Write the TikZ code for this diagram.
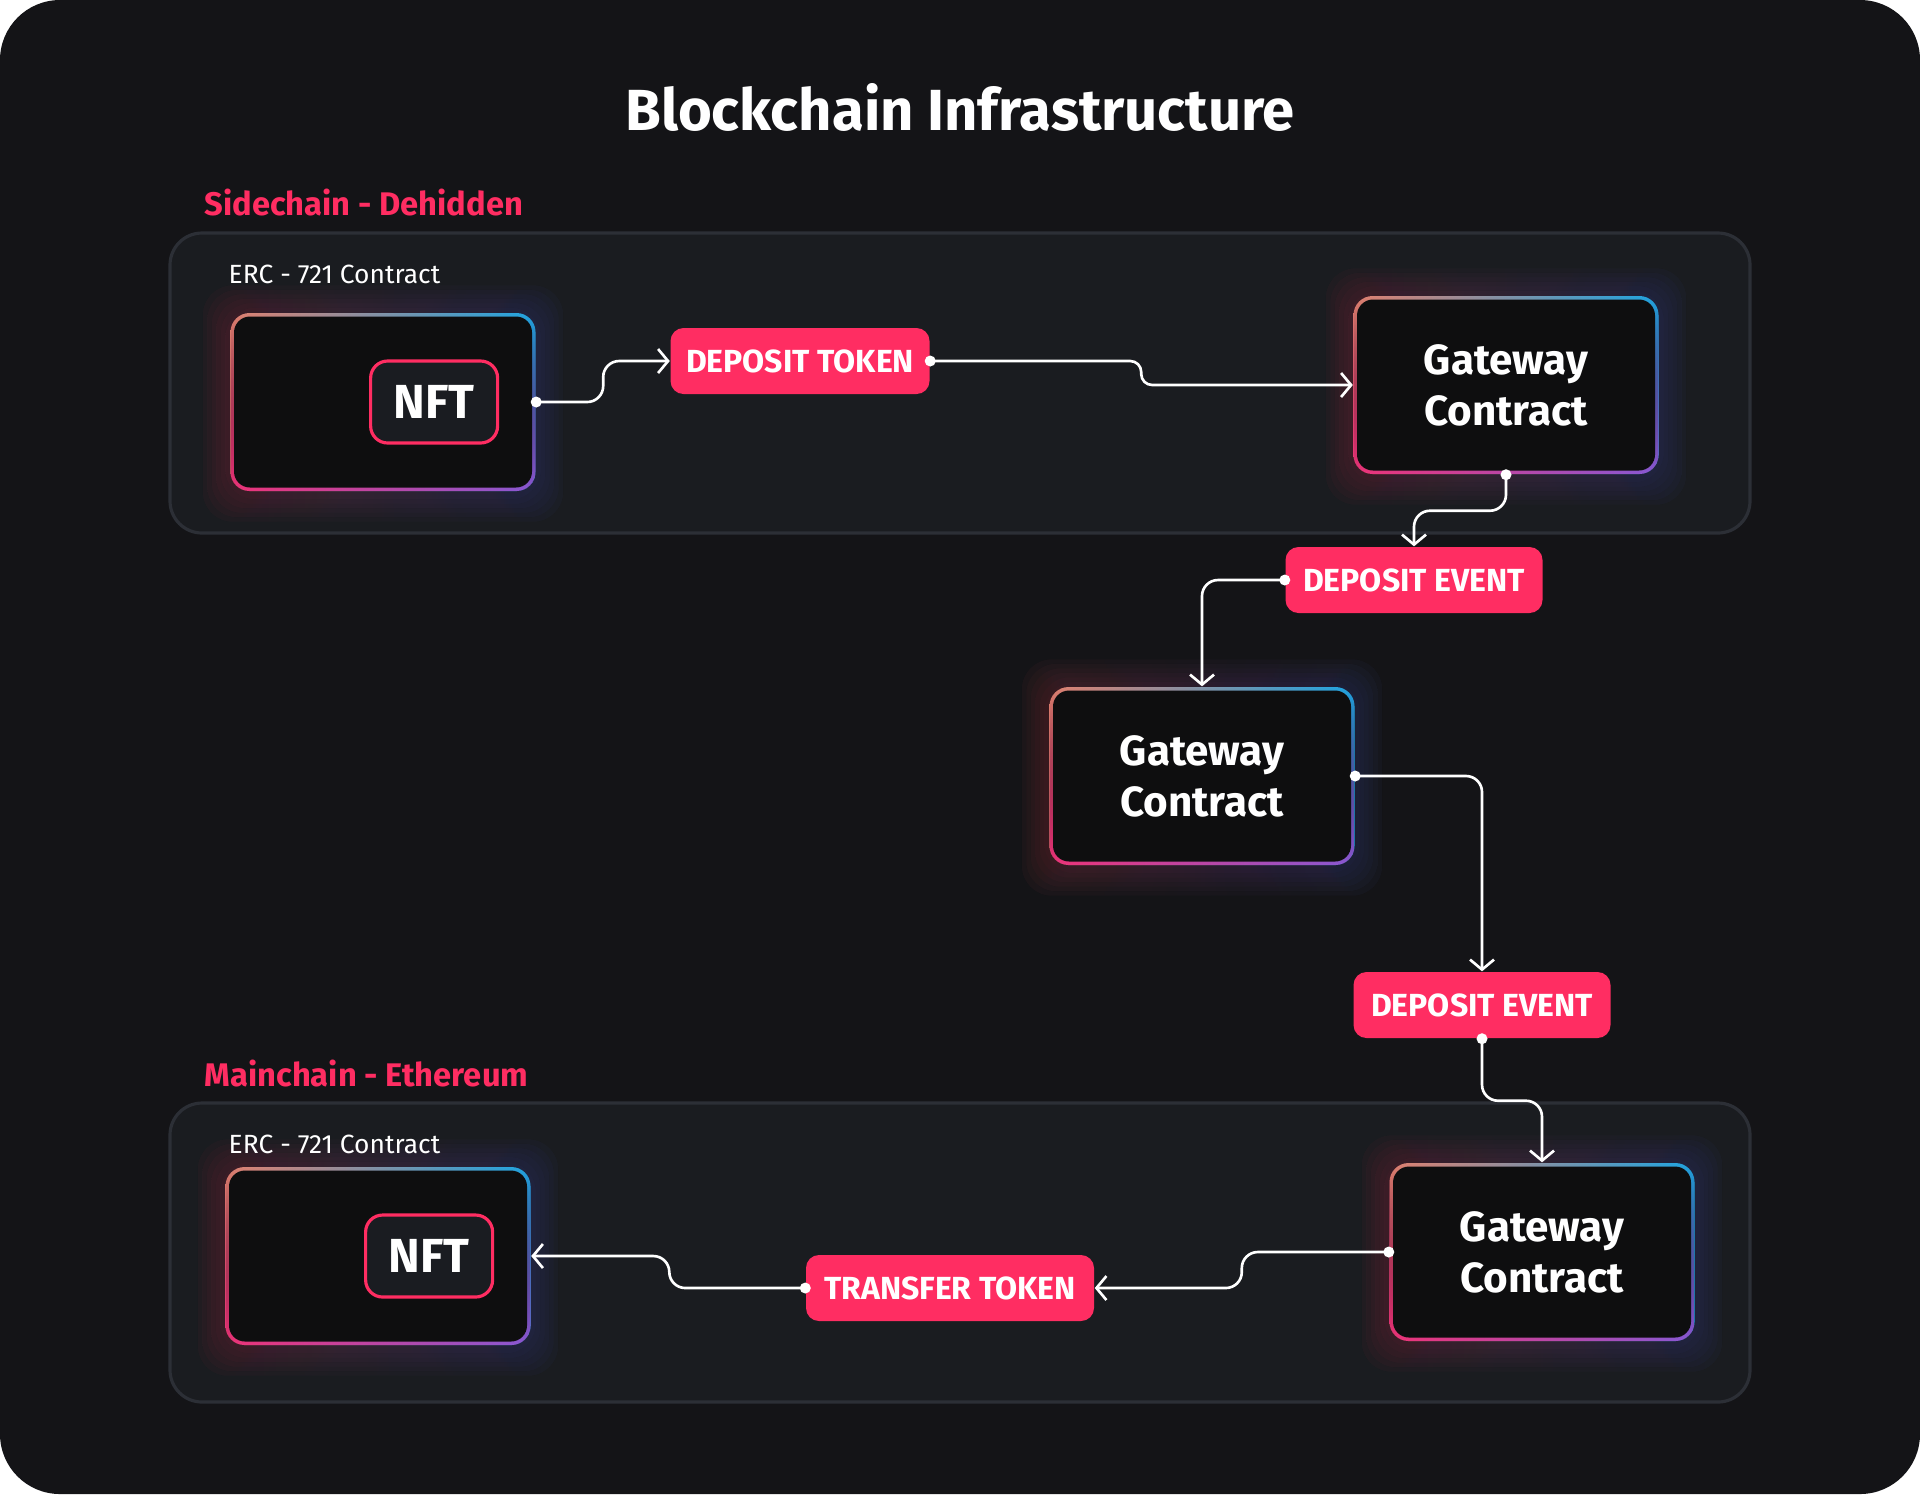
\documentclass[tikz,border=0pt]{standalone}
\usepackage{fontspec}
\setmainfont{Fira Sans}
\usepackage{tikz}
\usetikzlibrary{positioning}
\usetikzlibrary{arrows.meta}
\usetikzlibrary{fadings}
\pgfdeclarelayer{panel}
\pgfdeclarelayer{glow}
\pgfsetlayers{panel,glow,main}

\begin{document}
\begin{tikzpicture}[
	conn/.style={draw=white,line width=0.75pt,rounded corners=0.16cm,-{Straight Barb[length=0.1cm,width=0.24cm,line width=0.75pt]}},
	glow box/.style={rounded corners=0.19cm,minimum width=3.05cm,minimum height=1.78cm,inner sep=0pt,
		left color=tlcol,right color=trcol,text=white,align=center,
		font=\bfseries\fontsize{12}{14.5}\selectfont,
		path picture={
			\fill[left color=blcol,right color=brcol,path fading=north] (path picture bounding box.south west) rectangle (path picture bounding box.north east);
			\fill[boxcol,rounded corners=0.16cm] ([shift={(0.035,0.035)}]path picture bounding box.south west) rectangle ([shift={(-0.035,-0.035)}]path picture bounding box.north east);
		}},
	nft tag/.style={draw=pinkcol,line width=0.9pt,fill=tagcol,rounded corners=0.17cm,minimum width=1.27cm,minimum height=0.82cm,
		inner sep=0pt,text=white,font=\bfseries\fontsize{13.6}{15}\selectfont},
	pill/.style={fill=pinkcol,rounded corners=0.13cm,minimum height=0.66cm,inner sep=0pt,text=white,
		font=\bfseries\fontsize{9.1}{11}\selectfont},
	chain label/.style={anchor=base west,inner sep=0pt,text=pinkcol,font=\bfseries\fontsize{9.3}{11}\selectfont},
	erc label/.style={anchor=base west,inner sep=0pt,text=white,font=\fontsize{7.5}{9}\selectfont},
	dot/.style={fill=white}]

	\definecolor{bgcol}{RGB}{20,20,23}
	\definecolor{panelcol}{RGB}{26,28,32}
	\definecolor{panelline}{RGB}{44,47,54}
	\definecolor{pinkcol}{RGB}{255,45,98}
	\definecolor{boxcol}{RGB}{14,14,15}
	\definecolor{tagcol}{RGB}{26,28,33}
	\definecolor{tlcol}{RGB}{226,130,112}
	\definecolor{trcol}{RGB}{30,167,228}
	\definecolor{blcol}{RGB}{240,53,122}
	\definecolor{brcol}{RGB}{138,90,214}
	\definecolor{glowl}{RGB}{235,90,110}
	\definecolor{glowr}{RGB}{100,120,230}

	\useasboundingbox (0,0) rectangle (19.2,-14.94);

	\node[anchor=base,text=white,font=\bfseries\fontsize{16.5}{20}\selectfont] (title) at (9.6,-1.30) {Blockchain Infrastructure};

	\node[chain label] (side) at (2.04,-2.15) {Sidechain - Dehidden};
	\node[erc label] (ercA) at (2.28,-2.83) {ERC - 721 Contract};
	\node[glow box] (nftA) at (3.83,-4.02) {};
	\node[nft tag,left=0.37cm of nftA.east] (tagA) {NFT};
	\node[pill,minimum width=2.59cm] (tok) at (8.00,-3.61) {DEPOSIT TOKEN};
	\node[glow box] (gwA) at (15.06,-3.85) {Gateway\\Contract};

	\node[pill,minimum width=2.57cm] (evA) at (14.14,-5.80) {DEPOSIT EVENT};
	\node[glow box] (gwB) at (12.02,-7.76) {Gateway\\Contract};
	\node[pill,minimum width=2.57cm] (evB) at (14.82,-10.05) {DEPOSIT EVENT};

	\node[chain label] (main) at (2.04,-10.86) {Mainchain - Ethereum};
	\node[erc label] (ercB) at (2.28,-11.53) {ERC - 721 Contract};
	\node[glow box] (nftB) at (3.78,-12.56) {};
	\node[nft tag,left=0.37cm of nftB.east] (tagB) {NFT};
	\node[pill,minimum width=2.88cm] (tt) at (9.50,-12.88) {TRANSFER TOKEN};
	\node[glow box] (gwC) at (15.42,-12.52) {Gateway\\Contract};

	\draw[conn] (nftA.east) -- ++(0.67,0) |- (tok.west);
	\draw[conn,rounded corners=0.11cm] (tok.east) -- ++(2.11,0) |- (gwA.west);
	\draw[conn] (gwA.south) -- ++(0,-0.36) -| (evA.north);
	\draw[conn] (evA.west) -| (gwB.north);
	\draw[conn] (gwB.east) -| (evB.north);
	\draw[conn] (evB.south) -- ++(0,-0.62) -| (gwC.north);
	\draw[conn] (gwC.west) -- ++(-1.47,0) |- (tt.east);
	\draw[conn] (tt.west) -- ++(-1.36,0) |- (nftB.east);

	\foreach \p in {nftA.east,tok.east,gwA.south,evA.west,gwB.east,evB.south,gwC.west,tt.west}
		\fill[dot] (\p) circle (0.055);

	\begin{pgfonlayer}{panel}
		\fill[white] (0,0) rectangle (19.2,-14.94);
		\fill[bgcol,rounded corners=0.6cm] (0,0) rectangle (19.2,-14.94);
		\filldraw[fill=panelcol,draw=panelline,line width=0.9pt,rounded corners=0.32cm] (1.70,-2.33) rectangle (17.50,-5.33);
		\filldraw[fill=panelcol,draw=panelline,line width=0.9pt,rounded corners=0.32cm] (1.70,-11.03) rectangle (17.50,-14.02);
	\end{pgfonlayer}

	\begin{pgfonlayer}{glow}
		\foreach \b in {nftA,gwA,gwB,gwC,nftB}
			\foreach \k in {1,...,6}
				\fill[left color=glowl,right color=glowr,opacity=0.045,rounded corners=0.3cm]
				([shift={(-\k*0.045,-\k*0.045-0.03)}]\b.south west) rectangle ([shift={(\k*0.045,\k*0.045)}]\b.north east);
	\end{pgfonlayer}
\end{tikzpicture}
\end{document}
